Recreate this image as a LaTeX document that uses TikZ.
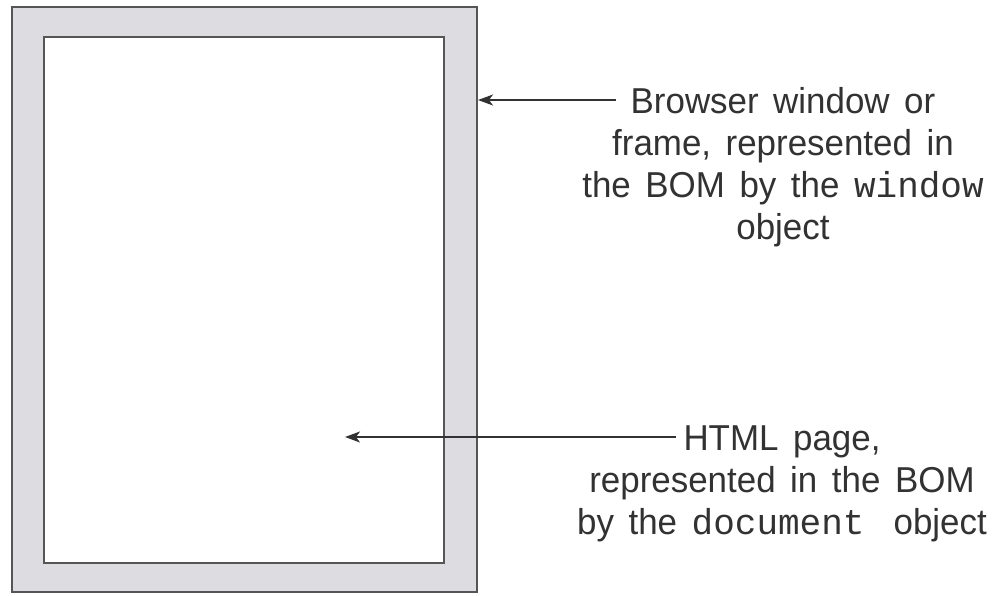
\documentclass[tikz,border=0pt]{standalone}
\usepackage{fontspec}
\setmainfont[FakeStretch=0.97, WordSpace=1.5]{Liberation Sans}
\setmonofont{Liberation Mono}
\usetikzlibrary{arrows.meta}
\definecolor{framefill}{RGB}{221,221,225}
\definecolor{edgegray}{RGB}{85,85,85}
\definecolor{inkgray}{RGB}{50,50,50}
\tikzset{
  outerbox/.style={draw=edgegray, line width=2pt, fill=framefill, inner sep=0pt,
    minimum width=465pt, minimum height=585pt},
  innerbox/.style={draw=edgegray, line width=1.6pt, fill=white, inner sep=0pt,
    minimum width=400pt, minimum height=526pt},
  caption/.style={align=center, inner sep=0pt, text=inkgray,
    font=\fontsize{36}{42}\selectfont},
  pointer/.style={draw=inkgray, line width=1.4pt,
    -{Stealth[length=15pt, width=11pt, inset=4pt]}}
}
\begin{document}
\begin{tikzpicture}[x=1pt, y=-1pt]
\useasboundingbox (0,0) rectangle (993,595);
% browser window and the page inside it
\node[outerbox] (win) at (244.5,299.5) {};
\node[innerbox] (page) at (244,300) {};
% captions
\node[caption] (wincap) at (783,167)
  {Browser window or\\frame, represented in\\the BOM by the \texttt{window}\\object};
\node[caption] (pagecap) at (782,484)
  {HTML page,\\represented in the BOM\\by the \texttt{document}\ \ object};
% pointers
\coordinate (wstart) at (616,100);
\coordinate (pstart) at (676,437);
\coordinate (ptip) at (345,437);
\draw[pointer] (wstart) -- (wstart -| win.east);
\draw[pointer] (pstart) -- (ptip);
\end{tikzpicture}
\end{document}
